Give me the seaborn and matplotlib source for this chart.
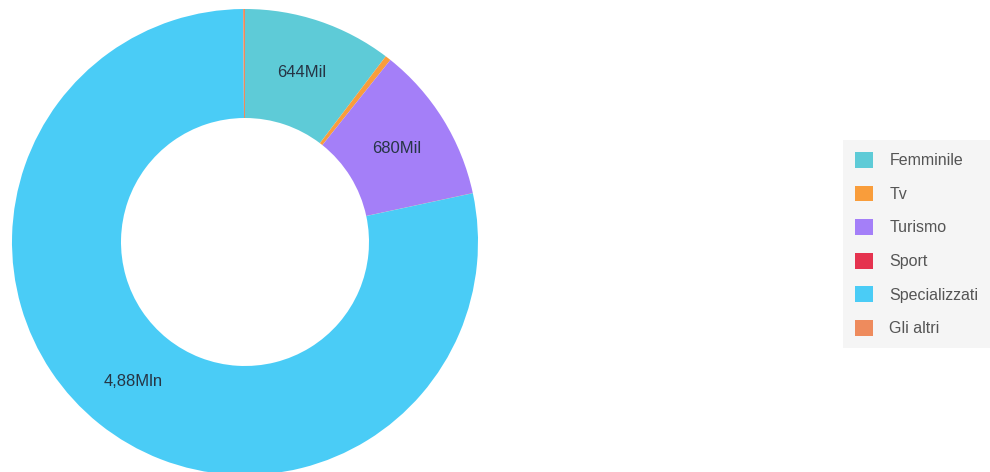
import matplotlib
matplotlib.use("Agg")
import matplotlib.pyplot as plt
import numpy as np
import seaborn as sns

# Readers per magazine category
categories = ["Femminile", "Tv", "Turismo", "Sport", "Specializzati", "Gli altri"]
readers = [644000, 25000, 680000, 1000, 4880000, 8000]
colors = ["#5ECBD7", "#F99D3B", "#A47FF8", "#E5334F", "#4ACCF6", "#EE8B5D"]


def fmt_value(v):
    if v >= 1_000_000:
        return f"{v / 1_000_000:.2f}".replace(".", ",") + "Mln"
    return f"{v / 1000:.0f}Mil"


sns.set_theme(style="white")
plt.rcParams["font.family"] = ["Liberation Sans", "DejaVu Sans"]

W, H = 990, 472
fig = plt.figure(figsize=(W / 100, H / 100), dpi=100)
ax = fig.add_axes([0, 0, 1, 1])

cx, cy = 245, H - 242
r_out, r_in = 233, 124

wedges, _ = ax.pie(
    readers,
    colors=colors,
    startangle=90,
    counterclock=False,
    center=(cx, cy),
    radius=r_out,
    wedgeprops=dict(width=r_out - r_in, linewidth=0),
)

ax.set_aspect("auto")
ax.set_xlim(0, W)
ax.set_ylim(0, H)
ax.axis("off")

# Value labels in the middle of each large slice
total = sum(readers)
r_mid = (r_out + r_in) / 2
for w, v in zip(wedges, readers):
    if v / total < 0.05:
        continue
    ang = np.deg2rad((w.theta1 + w.theta2) / 2)
    ax.text(cx + r_mid * np.cos(ang), cy + r_mid * np.sin(ang), fmt_value(v),
            ha="center", va="center", fontsize=12, color="#263545")

leg = ax.legend(
    wedges, categories,
    loc="upper left", bbox_to_anchor=(843 / W, 1 - 140 / H),
    bbox_transform=fig.transFigure, borderaxespad=0,
    fontsize=11.5, frameon=True, fancybox=False,
    facecolor="#F5F5F5", edgecolor="none", framealpha=1,
    handlelength=1.15, handleheight=1.15, handletextpad=1.0,
    labelspacing=1.08, borderpad=0.75,
)
for t in leg.get_texts():
    t.set_color("#555555")

fig.savefig("out.png", dpi=100)
